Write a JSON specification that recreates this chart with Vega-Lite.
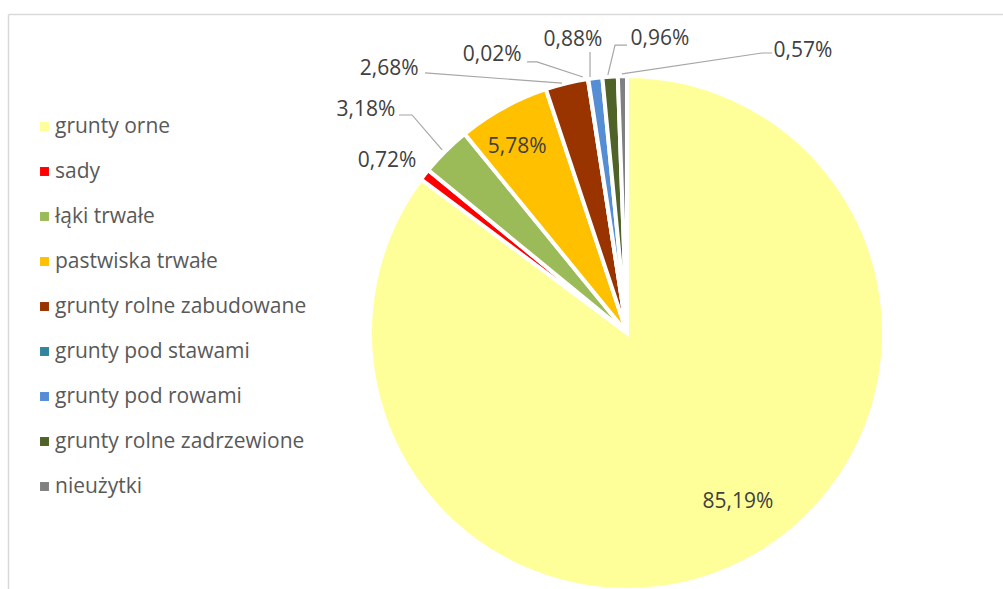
{
  "$schema": "https://vega.github.io/schema/vega-lite/v6.json",
  "width": 995,
  "height": 575,
  "autosize": {"type": "none"},
  "padding": {"left": 8, "top": 14, "right": 0, "bottom": 0},
  "background": "white",
  "config": {"view": {"stroke": null}, "font": "Open Sans"},
  "datasets": {
    "slices": [
      {"kategoria": "grunty orne", "udzial": 85.19, "kolejnosc": 1},
      {"kategoria": "sady", "udzial": 0.72, "kolejnosc": 2},
      {"kategoria": "łąki trwałe", "udzial": 3.18, "kolejnosc": 3},
      {"kategoria": "pastwiska trwałe", "udzial": 5.78, "kolejnosc": 4},
      {"kategoria": "grunty rolne zabudowane", "udzial": 2.68, "kolejnosc": 5},
      {"kategoria": "grunty pod stawami", "udzial": 0.02, "kolejnosc": 6},
      {"kategoria": "grunty pod rowami", "udzial": 0.88, "kolejnosc": 7},
      {"kategoria": "grunty rolne zadrzewione", "udzial": 0.96, "kolejnosc": 8},
      {"kategoria": "nieużytki", "udzial": 0.57, "kolejnosc": 9}
    ],
    "labels": [
      {"tekst": "85,19%", "x": 0.435, "y": -0.663},
      {"tekst": "5,78%", "x": -0.431, "y": 0.729},
      {"tekst": "0,72%", "x": -0.941, "y": 0.675},
      {"tekst": "3,18%", "x": -1.024, "y": 0.875},
      {"tekst": "2,68%", "x": -0.933, "y": 1.035},
      {"tekst": "0,02%", "x": -0.529, "y": 1.090},
      {"tekst": "0,88%", "x": -0.212, "y": 1.149},
      {"tekst": "0,96%", "x": 0.129, "y": 1.153},
      {"tekst": "0,57%", "x": 0.690, "y": 1.106}
    ],
    "leaders": [
      {"id": "3,18%", "p": 1, "x": -0.894, "y": 0.855},
      {"id": "3,18%", "p": 2, "x": -0.843, "y": 0.855},
      {"id": "3,18%", "p": 3, "x": -0.725, "y": 0.718},
      {"id": "2,68%", "p": 1, "x": -0.792, "y": 1.020},
      {"id": "2,68%", "p": 2, "x": -0.255, "y": 0.980},
      {"id": "0,02%", "p": 1, "x": -0.392, "y": 1.063},
      {"id": "0,02%", "p": 2, "x": -0.353, "y": 1.063},
      {"id": "0,02%", "p": 3, "x": -0.173, "y": 1.004},
      {"id": "0,88%", "p": 1, "x": -0.145, "y": 1.102},
      {"id": "0,88%", "p": 2, "x": -0.145, "y": 1.004},
      {"id": "0,96%", "p": 1, "x": 0.0, "y": 1.129},
      {"id": "0,96%", "p": 2, "x": -0.047, "y": 1.129},
      {"id": "0,96%", "p": 3, "x": -0.075, "y": 1.012},
      {"id": "0,57%", "p": 1, "x": 0.569, "y": 1.098},
      {"id": "0,57%", "p": 2, "x": 0.529, "y": 1.098},
      {"id": "0,57%", "p": 3, "x": -0.020, "y": 1.016}
    ]
  },
  "layer": [
    {
      "data": {"name": "slices"},
      "mark": {"type": "arc", "outerRadius": 257, "stroke": "white", "strokeWidth": 4},
      "encoding": {
        "x": {"datum": 0, "type": "quantitative"},
        "y": {"datum": 0, "type": "quantitative"},
        "theta": {"field": "udzial", "type": "quantitative", "stack": true},
        "order": {"field": "kolejnosc", "type": "quantitative"},
        "color": {
          "field": "kategoria",
          "type": "nominal",
          "scale": {
            "domain": ["grunty orne", "sady", "łąki trwałe", "pastwiska trwałe", "grunty rolne zabudowane", "grunty pod stawami", "grunty pod rowami", "grunty rolne zadrzewione", "nieużytki"],
            "range": ["#FFFF99", "#FF0000", "#9BBB59", "#FFC000", "#993300", "#31859C", "#558ED5", "#4F6228", "#808080"]
          },
          "legend": {
            "orient": "none",
            "legendX": 26,
            "legendY": 102,
            "title": null,
            "symbolType": "square",
            "symbolSize": 80,
            "symbolStrokeWidth": 0,
            "labelFont": "Open Sans",
            "labelFontSize": 21,
            "labelColor": "#595959",
            "labelOffset": 0,
            "rowPadding": 23,
            "padding": 0,
            "labelLimit": 400
          }
        }
      }
    },
    {
      "data": {"name": "leaders"},
      "mark": {"type": "line", "color": "#A6A6A6", "strokeWidth": 1.2},
      "encoding": {
        "x": {"field": "x", "type": "quantitative"},
        "y": {"field": "y", "type": "quantitative"},
        "detail": {"field": "id"},
        "order": {"field": "p", "type": "quantitative"}
      }
    },
    {
      "data": {"name": "labels"},
      "mark": {"type": "text", "font": "Open Sans", "fontSize": 21, "color": "#404040", "align": "center", "baseline": "middle"},
      "encoding": {
        "x": {
          "field": "x",
          "type": "quantitative",
          "scale": {"domain": [-2.4275, 1.4745], "nice": false, "zero": false},
          "axis": {"orient": "top", "domain": true, "domainColor": "#D9D9D9", "domainWidth": 1.5, "ticks": false, "labels": false, "grid": false, "title": null}
        },
        "y": {
          "field": "y",
          "type": "quantitative",
          "scale": {"domain": [-1.0039, 1.251], "nice": false, "zero": false},
          "axis": {"orient": "left", "domain": true, "domainColor": "#D9D9D9", "domainWidth": 1.5, "ticks": false, "labels": false, "grid": false, "title": null}
        },
        "text": {"field": "tekst"}
      }
    }
  ]
}
